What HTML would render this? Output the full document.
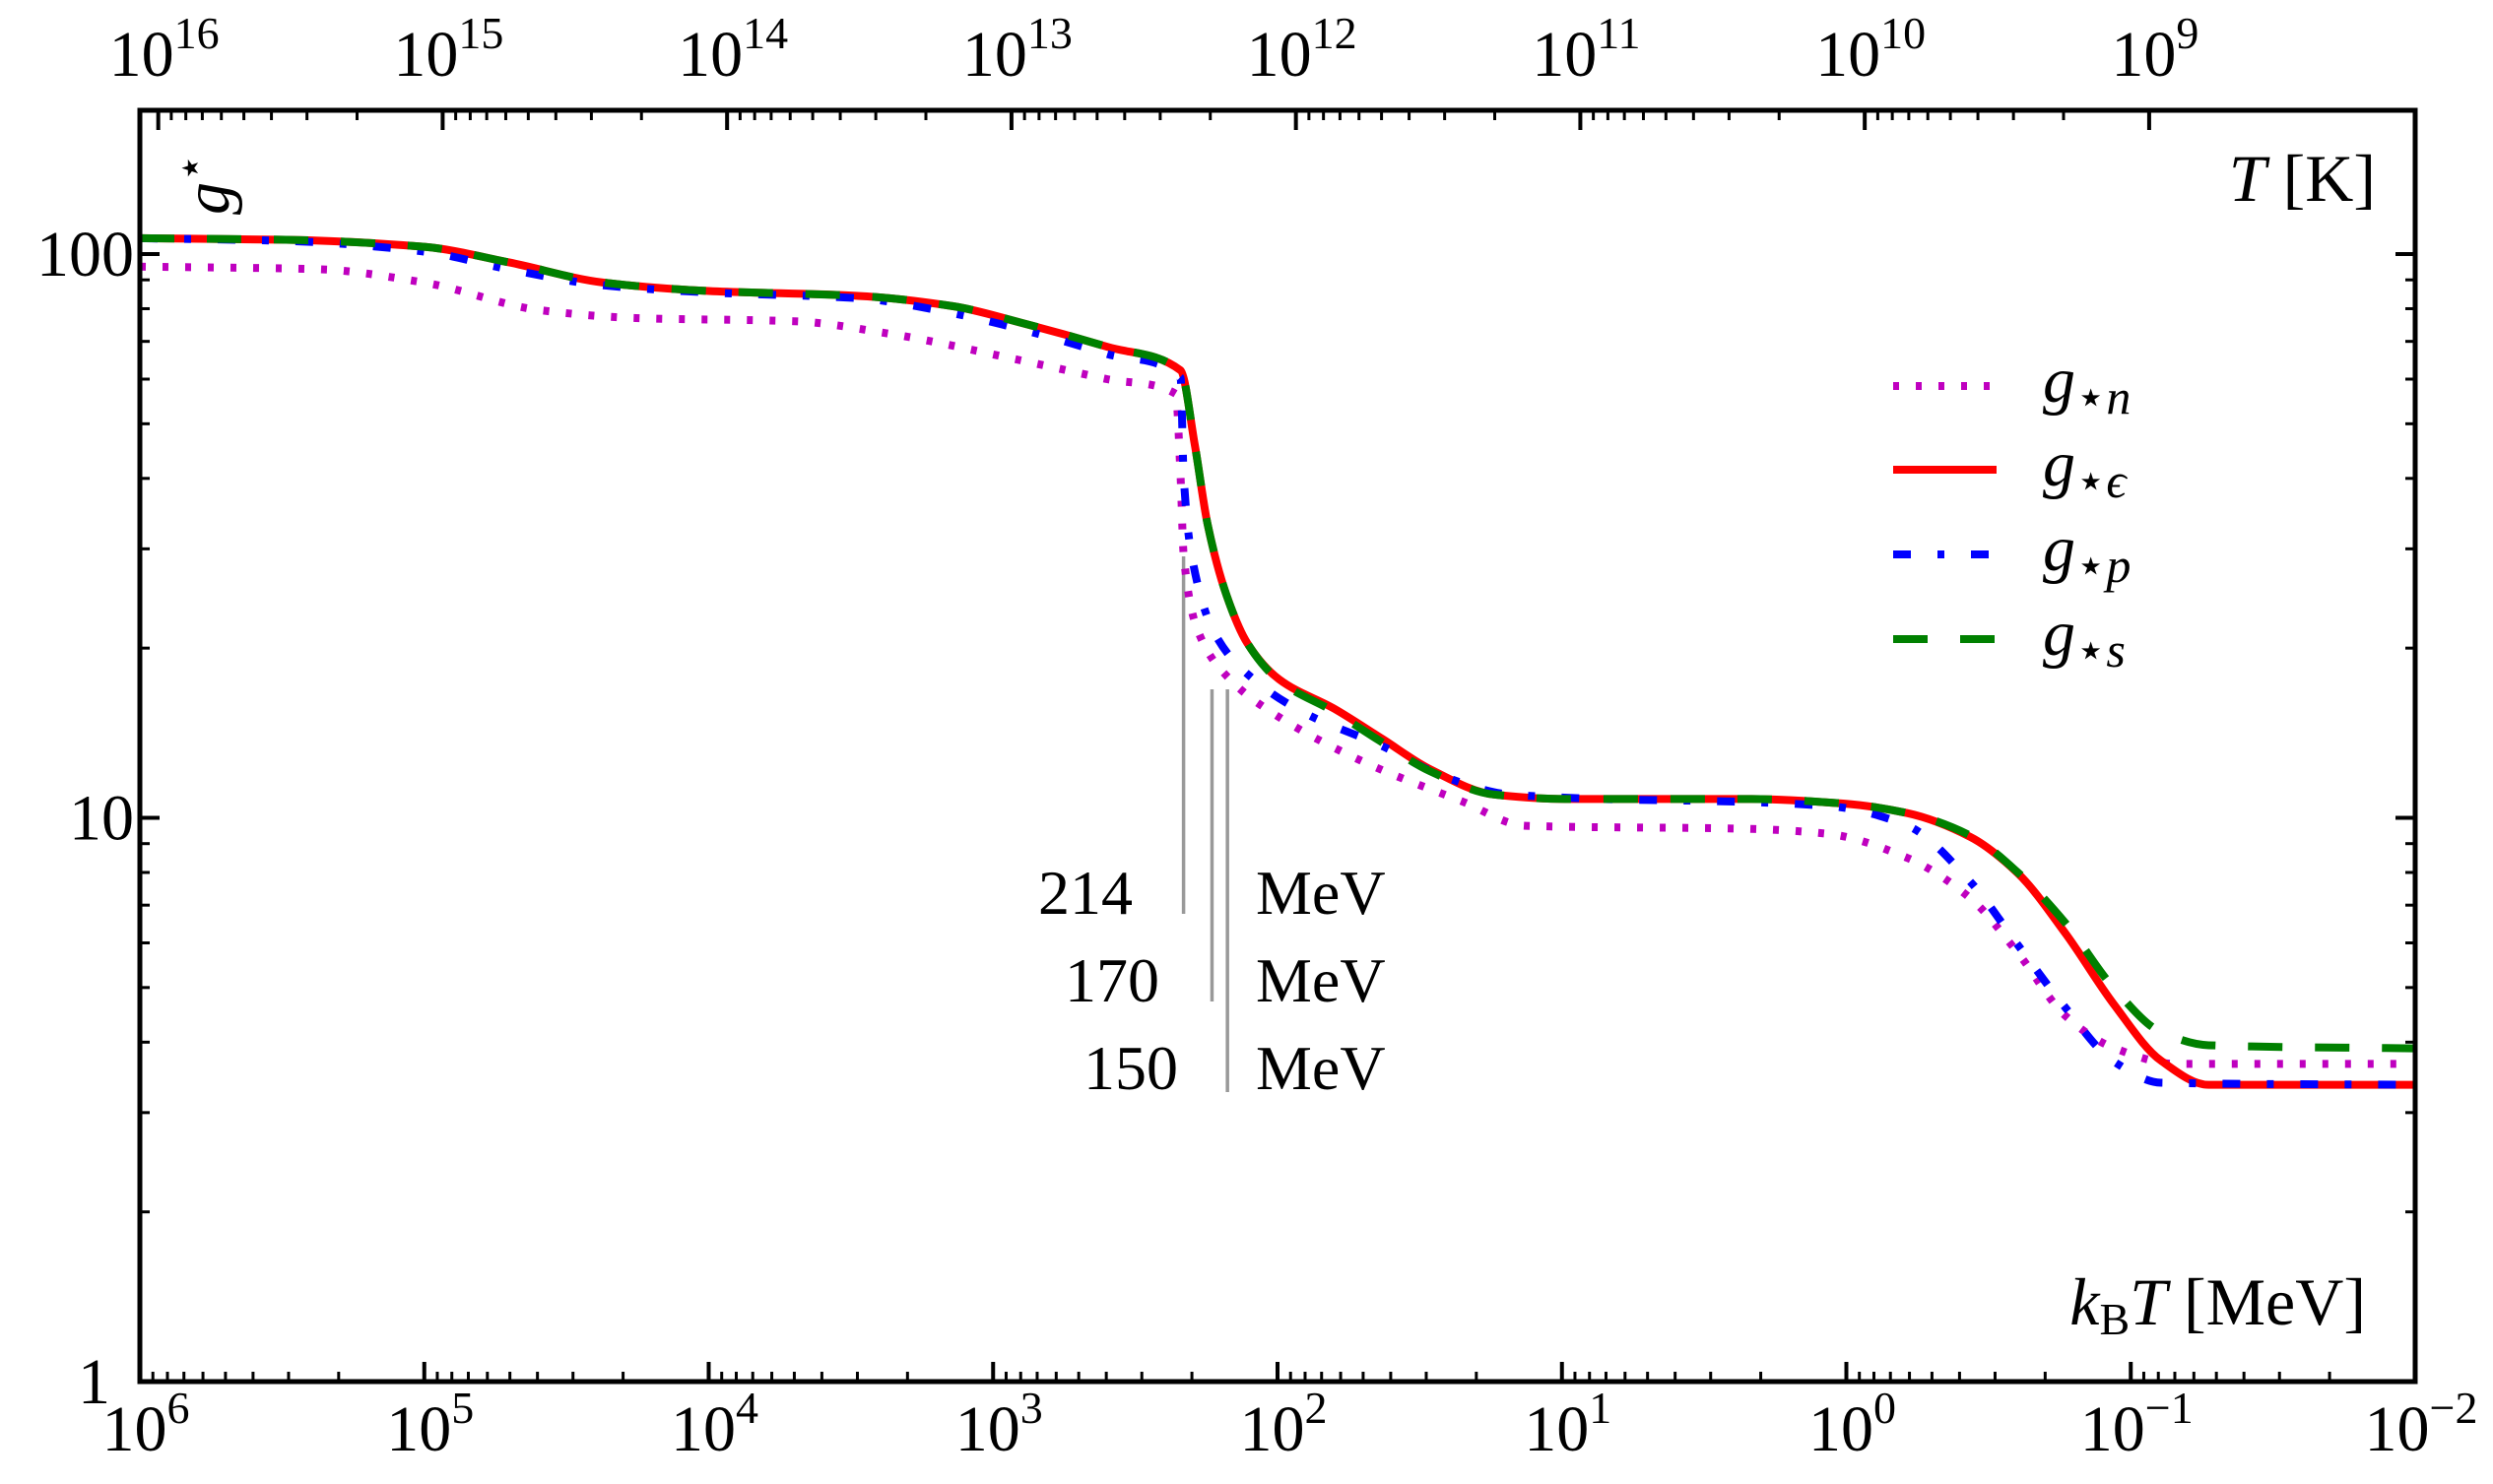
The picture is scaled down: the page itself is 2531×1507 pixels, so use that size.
<!DOCTYPE html>
<html><head><meta charset="utf-8"><style>
html,body{margin:0;padding:0;background:#fff;}
svg{display:block;font-family:"Liberation Serif","DejaVu Serif",serif;}
</style></head><body>
<svg id="chart" width="2531" height="1507" viewBox="0 0 2531 1507" xmlns="http://www.w3.org/2000/svg">
<g id="series"></g>
<g id="axes"></g>
</svg>
<script>
// log10(kT / MeV) and g values
const logT_eps = [6,5.486,5.0,4.704,4.369,4.0,3.475,3.14,2.9,2.6,2.341,2.291,2.246,2.179,2.106,1.994,1.799,1.631,1.464,1.24,0.989,0.346,0.011,-0.212,-0.436,-0.603,-0.771,-0.939,-1.106,-1.274,-1.994];
const g_eps    = [106.7,106,103,96.7,89,86.0,84.3,80.8,75.5,68.5,62.2,45.9,33.2,24.8,20.4,17.6,15.6,13.8,12.2,11.0,10.8,10.8,10.6,10.2,9.25,7.97,6.23,4.68,3.71,3.36,3.36];
const logT_s   = [6,5.486,5.0,4.704,4.369,4.0,3.475,3.14,2.9,2.6,2.341,2.291,2.246,2.179,2.106,1.994,1.799,1.631,1.464,1.24,0.989,0.346,0.011,-0.212,-0.436,-0.603,-0.771,-0.939,-1.106,-1.274,-1.994];
const g_s      = [106.7,106,103,96.7,89,86.0,84.3,80.8,75.5,68.5,62.2,45.9,33.2,24.8,20.4,17.5,15.4,13.6,12.1,11.0,10.8,10.8,10.6,10.2,9.3,8.0,6.5,5.0,4.17,3.95,3.9];
const logT_p   = [6,5.486,5.0,4.704,4.369,4.0,3.475,3.14,2.9,2.6,2.341,2.33,2.302,2.218,2.078,1.911,1.631,1.408,1.184,0.067,-0.212,-0.436,-0.603,-0.771,-0.939,-1.106,-1.994];
const g_p      = [106.7,105.5,101,94,88,85.5,83.5,78.5,73.5,66.5,60.4,40.4,29.2,21.1,17.5,15.4,13.4,11.8,11.0,10.5,9.7,7.7,5.95,4.6,3.7,3.39,3.36];
const logT_n   = [6,5.374,5.0,4.592,4.257,3.698,3.363,2.916,2.6,2.358,2.341,2.33,2.274,2.162,2.022,1.687,1.352,1.128,0.346,0.067,-0.212,-0.436,-0.603,-0.771,-0.939,-1.162,-1.994];
const g_n      = [95,94,89,79.5,77,76,72.2,65,60,56.5,40.4,29.2,21.1,17.5,15.4,12.5,10.7,9.68,9.56,9.37,8.5,7.2,5.76,4.45,3.91,3.66,3.66];
const xTickExp = [6,5,4,3,2,1,0,-1,-2];
const yTickVals = [1,10,100];
const topTickExp = [16,15,14,13,12,11,10,9];
const markers = [214,170,150];

const NS="http://www.w3.org/2000/svg";
const X0=142,X1=2452,YB=1403,YT=112;
const xs=l=>X0+(6-l)*(X1-X0)/8;
const ys=g=>YB-Math.log10(g)*572.5;
const K_PER_MEV=1.1605e10;
function mk(tag,attrs,parent){const e=document.createElementNS(NS,tag);for(const k in attrs)e.setAttribute(k,attrs[k]);parent.appendChild(e);return e;}
const S=document.getElementById('series'), A=document.getElementById('axes');

function smoothPath(lx,gy){
  const p=lx.map((l,i)=>[xs(l),ys(gy[i])]);
  const n=p.length, dx=[], m=[], t=[];
  for(let i=0;i<n-1;i++){dx[i]=Math.max(p[i+1][0]-p[i][0],0.01);m[i]=(p[i+1][1]-p[i][1])/dx[i];}
  t[0]=m[0];t[n-1]=m[n-2];
  for(let i=1;i<n-1;i++){
    if(m[i-1]*m[i]<=0)t[i]=0;
    else{const w1=2*dx[i]+dx[i-1],w2=dx[i]+2*dx[i-1];t[i]=(w1+w2)/(w1/m[i-1]+w2/m[i]);}
  }
  let d=`M${p[0][0]},${p[0][1]}`;
  for(let i=0;i<n-1;i++){
    const h=dx[i]/3;
    d+=` C${p[i][0]+h},${p[i][1]+t[i]*h} ${p[i+1][0]-h},${p[i+1][1]-t[i+1]*h} ${p[i+1][0]},${p[i+1][1]}`;
  }
  return d;
}
const defs=mk('clipPath',{id:'clip'},S);mk('rect',{x:X0,y:YT,width:X1-X0,height:YB-YT},defs);

const mTop=[565,700,700], mBot=[928,1017,1109];
markers.forEach((m,i)=>{
  const x=xs(Math.log10(m));
  const ln=mk('line',{x1:x,x2:x,y1:mTop[i],y2:mBot[i],stroke:'#999',"stroke-width":3.5},S);
  
  
  const t=mk('text',{x:[1150,1177,1196][i],y:[928,1017,1106][i],"font-size":64,"text-anchor":"end"},S);t.textContent=m;
  
  
  const u=mk('text',{x:1275,y:[928,1017,1106][i],"font-size":64},S);u.textContent='MeV';
  
  
});

const series=[
 {n:'g-star-n',lx:logT_n,g:g_n,c:'#bf00bf',dash:'6 17'},
 {n:'g-star-eps',lx:logT_eps,g:g_eps,c:'#ff0000',dash:''},
 {n:'g-star-p',lx:logT_p,g:g_p,c:'#0000ff',dash:'18 27 7 27'},
 {n:'g-star-s',lx:logT_s,g:g_s,c:'#008000',dash:'35 33'}
];
series.forEach(s=>{
  const p=mk('path',{d:smoothPath(s.lx,s.g),fill:'none',stroke:s.c,"stroke-width":8,"clip-path":"url(#clip)","stroke-linejoin":"round"},S);
  if(s.dash)p.setAttribute('stroke-dasharray',s.dash);
  
  
});

const legY=[392,477,563,649], legSub=['n','ϵ','p','s'];
series.forEach((s,i)=>{
  const l=mk('line',{x1:1922,x2:2027,y1:legY[i],y2:legY[i],stroke:s.c,"stroke-width":8},A);
  if(s.dash)l.setAttribute('stroke-dasharray',s.dash);
  
  
  const t=mk('text',{x:2074,y:legY[i]+16,"font-size":66,"font-style":"italic"},A);
  t.innerHTML='g<tspan font-size="50" dy="12" font-style="normal">⋆</tspan><tspan font-size="50">'+legSub[i]+'</tspan>';
  
  
});

const fr=mk('rect',{x:X0,y:YT,width:X1-X0,height:YB-YT,fill:'none',stroke:'#000',"stroke-width":5},A);



function tick(x1,y1,x2,y2,w){mk('line',{x1,y1,x2,y2,stroke:'#000',"stroke-width":w},A);}
xTickExp.forEach(e=>{
  const x=xs(e);
  tick(x,YB,x,YB-20,4);
  for(let k=2;k<=9&&e>-2;k++){const xm=xs(e-1+Math.log10(k));tick(xm,YB,xm,YB-10,3);}
  const t=mk('text',{x:x+6,y:1473,"font-size":66,"text-anchor":"middle"},A);
  t.innerHTML='10<tspan font-size="46" dy="-28">'+(e<0?'−'+(-e):e)+'</tspan>';
  
  
});
topTickExp.forEach(e=>{
  const x=xs(e-Math.log10(K_PER_MEV));
  tick(x,YT,x,YT+20,4);
  for(let k=2;k<=9;k++){const xm=xs(e+Math.log10(k)-Math.log10(K_PER_MEV));if(xm>X0&&xm<X1)tick(xm,YT,xm,YT+10,3);}
  const t=mk('text',{x:x+6,y:77,"font-size":66,"text-anchor":"middle"},A);
  t.innerHTML='10<tspan font-size="46" dy="-28">'+e+'</tspan>';
  
  
});
yTickVals.forEach(v=>{
  const y=ys(v);
  tick(X0,y,X0+20,y,4);tick(X1,y,X1-20,y,4);
  for(let k=2;k<=9;k++){const ym=ys(v*k);if(ym>YT){tick(X0,ym,X0+10,ym,3);tick(X1,ym,X1-10,ym,3);}}
  const t=mk('text',{x:v===1?112:136,y:y+22,"font-size":66,"text-anchor":"end"},A);t.textContent=v;
  
  
});
const gy=mk('text',{x:0,y:0,"font-size":66,"font-style":"italic",transform:"translate(232,218) rotate(-90)"},A);
gy.innerHTML='g<tspan font-size="46" dy="-24" font-style="normal">⋆</tspan>';


const tk=mk('text',{x:2412,y:204,"font-size":68,"text-anchor":"end"},A);
tk.innerHTML='<tspan font-style="italic">T</tspan> [K]';


const xt=mk('text',{x:2402,y:1345,"font-size":68,"text-anchor":"end"},A);
xt.innerHTML='<tspan font-style="italic">k</tspan><tspan font-size="46" dy="10">B</tspan><tspan font-style="italic" dy="-10">T</tspan> [MeV]';


</script>
</body></html>
